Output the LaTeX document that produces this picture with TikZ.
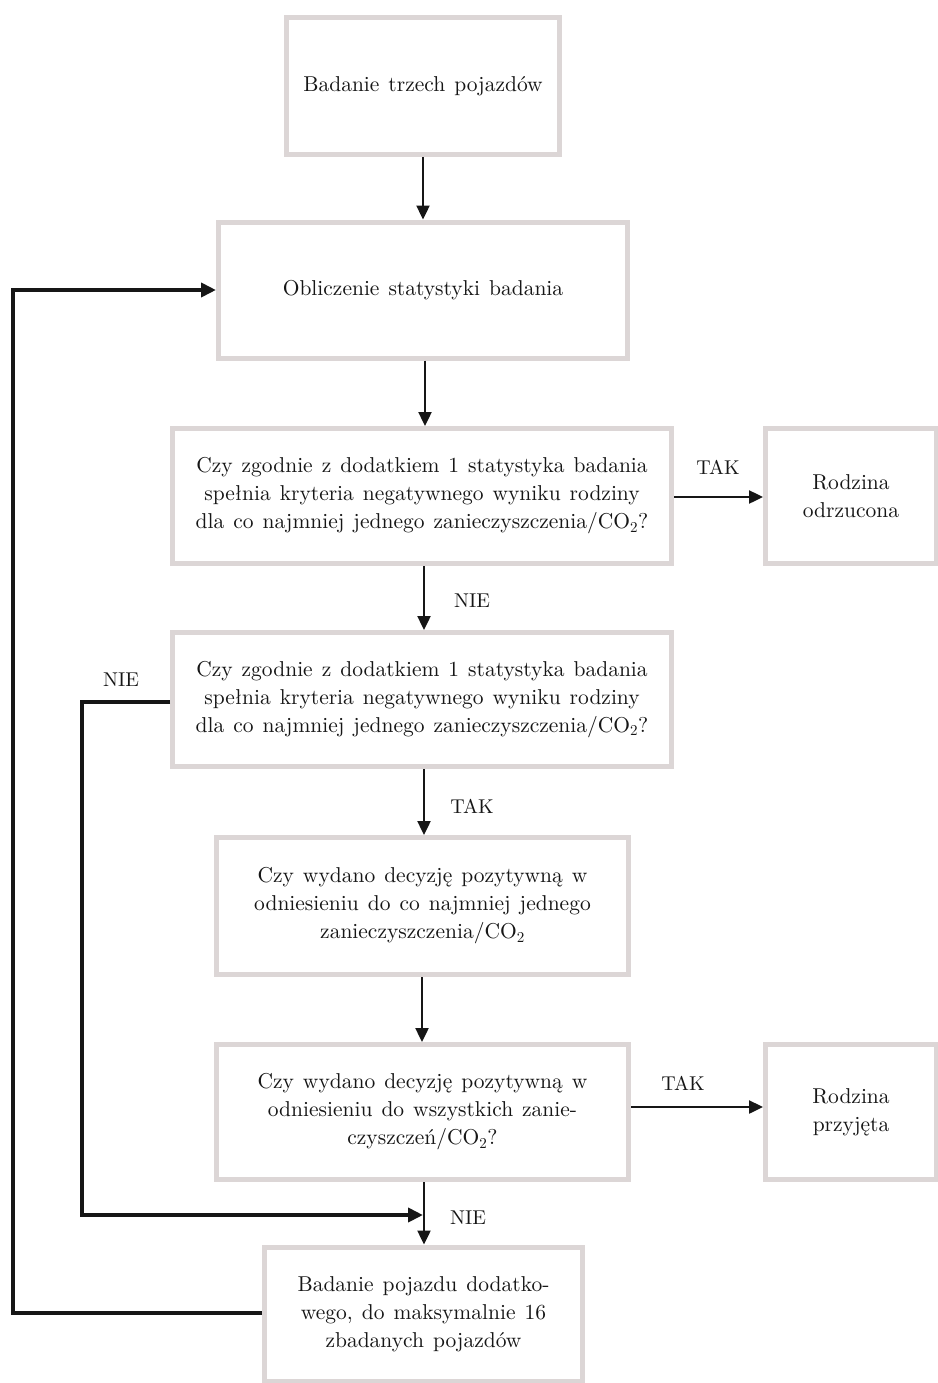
\documentclass[tikz,border=0pt]{standalone}
\usepackage{fontspec}
\setmainfont{lmroman10-regular}[Extension=.otf]
\usetikzlibrary{arrows.meta}
\definecolor{boxgray}{HTML}{DCD6D6}
\definecolor{ink}{HTML}{161616}
\newcommand{\boxfont}{\fontsize{21.5}{28}\selectfont\spaceskip=9pt plus 1pt minus 1pt\relax}
\begin{document}
\begin{tikzpicture}[x=1pt,y=-1pt,
  box/.style={draw=boxgray, line width=5pt, fill=white, inner sep=0pt,
    align=center, text=ink, font=\boxfont},
  lbl/.style={text=ink, font=\fontsize{20}{24}\selectfont, inner sep=0pt},
  flow/.style={draw=ink, line width=2.4pt, -{Triangle[length=14pt,width=13pt]}},
  loop/.style={draw=ink, line width=4.5pt, line join=miter,
    -{Triangle[length=15pt,width=14pt]}}]
\useasboundingbox (0,0) rectangle (937,1383);

\node[box, minimum width=273pt, minimum height=137pt] (b1) at (423,86)
  {Badanie trzech pojazdów};
\node[box, minimum width=409pt, minimum height=136pt] (b2) at (423,290)
  {Obliczenie statystyki badania};
\node[box, minimum width=499pt, minimum height=135pt] (b3) at (422,496)
  {Czy zgodnie z dodatkiem 1 statystyka badania\\
   spełnia kryteria negatywnego wyniku rodziny\\
   dla co najmniej jednego zanieczyszczenia/CO\textsubscript{2}?};
\node[box, minimum width=171pt, minimum height=135pt] (r1) at (851,496)
  {Rodzina\\odrzucona};
\node[box, minimum width=499pt, minimum height=134pt] (b4) at (422,699.5)
  {Czy zgodnie z dodatkiem 1 statystyka badania\\
   spełnia kryteria negatywnego wyniku rodziny\\
   dla co najmniej jednego zanieczyszczenia/CO\textsubscript{2}?};
\node[box, minimum width=412pt, minimum height=137pt] (b5) at (422.5,906)
  {Czy wydano decyzję pozytywną w\\
   odniesieniu do co najmniej jednego\\
   zanieczyszczenia/CO\textsubscript{2}};
\node[box, minimum width=412pt, minimum height=135pt] (b6) at (422.5,1112)
  {Czy wydano decyzję pozytywną w\\
   odniesieniu do wszystkich zanie-\\
   czyszczeń/CO\textsubscript{2}?};
\node[box, minimum width=171pt, minimum height=135pt] (r2) at (851,1112)
  {Rodzina\\przyjęta};
\node[box, minimum width=318pt, minimum height=134pt] (b7) at (423.5,1314)
  {Badanie pojazdu dodatko-\\
   wego, do maksymalnie 16\\
   zbadanych pojazdów};

% main flow
\draw[flow] (b1.south -| 423,0) -- (b2.north -| 423,0);
\draw[flow] (b2.south -| 425,0) -- (b3.north -| 425,0);
\draw[flow] (b3.east |- 0,497) -- (r1.west |- 0,497);
\draw[flow] (b3.south -| 424,0) -- (b4.north -| 424,0);
\draw[flow] (b4.south -| 424,0) -- (b5.north -| 424,0);
\draw[flow] (b5.south -| 422,0) -- (b6.north -| 422,0);
\draw[flow] (b6.east |- 0,1107) -- (r2.west |- 0,1107);
\draw[flow] (b6.south -| 424,0) -- (b7.north -| 424,0);

% branch labels
\node[lbl] (t1) at (718,467) {TAK};
\node[lbl] (n1) at (472,601) {NIE};
\node[lbl] (n2) at (121,680) {NIE};
\node[lbl] (t2) at (472,806) {TAK};
\node[lbl] (t3) at (683,1083) {TAK};
\node[lbl] (n3) at (468,1218) {NIE};

% return paths
\coordinate (merge) at (423,1215);
\draw[loop] (b4.west |- 0,702) -| (82,1215) -- (merge);
\draw[loop] (b7.west |- 0,1313) -| (13,290) -- (b2.west |- 0,290);
\end{tikzpicture}
\end{document}
